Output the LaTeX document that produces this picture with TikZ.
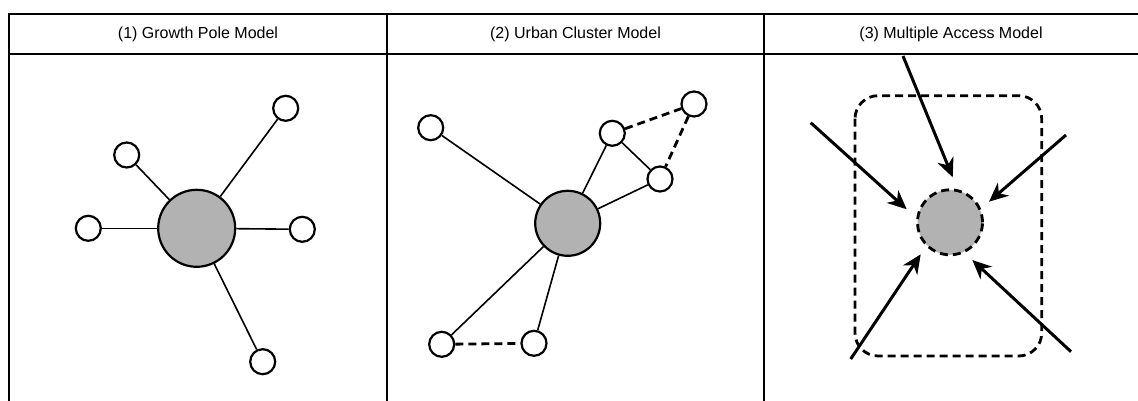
\documentclass[tikz,border=0pt]{standalone}
\usepackage{fontspec}
\setmainfont{Liberation Sans}
\usetikzlibrary{arrows.meta}
\begin{document}
\begin{tikzpicture}[x=1pt,y=-1pt,
  frame/.style={line width=2.3pt},
  title/.style={font=\fontsize{16}{19}\selectfont,inner sep=0pt},
  hub/.style={circle,draw,line width=2.2pt,fill=black!30,inner sep=0pt},
  town/.style={circle,draw,line width=2.2pt,fill=white,minimum size=25pt,inner sep=0pt},
  link/.style={line width=1.6pt},
  weak/.style={line width=2.8pt,dash pattern=on 8pt off 5pt},
  flow/.style={line width=3pt,-{Stealth[length=19pt,width=17pt,inset=6pt]}}
]
\useasboundingbox (0,0) rectangle (1138,401);

% table frame
\draw[frame] (8,14) -- (1138,14);
\draw[frame] (8,54) -- (1138,54);
\draw[frame] (9,13) -- (9,401);
\draw[frame] (387,14) -- (387,401);
\draw[frame] (764,14) -- (764,401);

\node[title] (h1) at (198,34) {(1) Growth Pole Model};
\node[title] (h2) at (575.5,34) {(2) Urban Cluster Model};
\node[title] (h3) at (951,34) {(3) Multiple Access Model};

% (1) growth pole
\node[hub,minimum size=77pt] (p) at (196.7,228.3) {};
\node[town] (pw) at (88.3,228.3) {};
\node[town] (pe) at (302.3,229.3) {};
\node[town] (pnw) at (126.7,155) {};
\node[town] (pne) at (285.7,108.3) {};
\node[town] (ps) at (262.7,361.7) {};
\foreach \t in {pw,pe,pnw,pne,ps} \draw[link] (p) -- (\t);

% (2) urban cluster
\node[hub,minimum size=65pt] (c) at (567.7,223.3) {};
\node[town] (cnw) at (430.7,127.7) {};
\node[town] (ca) at (612.3,133.3) {};
\node[town] (cb) at (694,104) {};
\node[town] (cc) at (660,179) {};
\node[town] (cd) at (441.7,344.3) {};
\node[town] (ce) at (534,343.3) {};
\foreach \t in {cnw,ca,cc,cd,ce} \draw[link] (c) -- (\t);
\draw[link] (ca) -- (cc);
\draw[weak] (ca) -- (cb);
\draw[weak] (cb) -- (cc);
\draw[weak] (cd) -- (ce);

% (3) multiple access
\draw[weak,rounded corners=23pt] (855,95.7) rectangle (1041.7,356);
\node[hub,minimum size=65pt,dash pattern=on 8pt off 5pt,line width=2.8pt] (m) at (950,222.3) {};
\coordinate (a1) at (903,56);     \coordinate (b1) at (952.7,177.3);
\coordinate (a2) at (810.7,122.7); \coordinate (b2) at (906.7,209.3);
\coordinate (a3) at (1066,135);   \coordinate (b3) at (989,201.7);
\coordinate (a4) at (850.7,359);  \coordinate (b4) at (920.7,254.3);
\coordinate (a5) at (1071,351.7); \coordinate (b5) at (972.3,260);
\foreach \i in {1,...,5} \draw[flow] (a\i) -- (b\i);
\end{tikzpicture}
\end{document}
